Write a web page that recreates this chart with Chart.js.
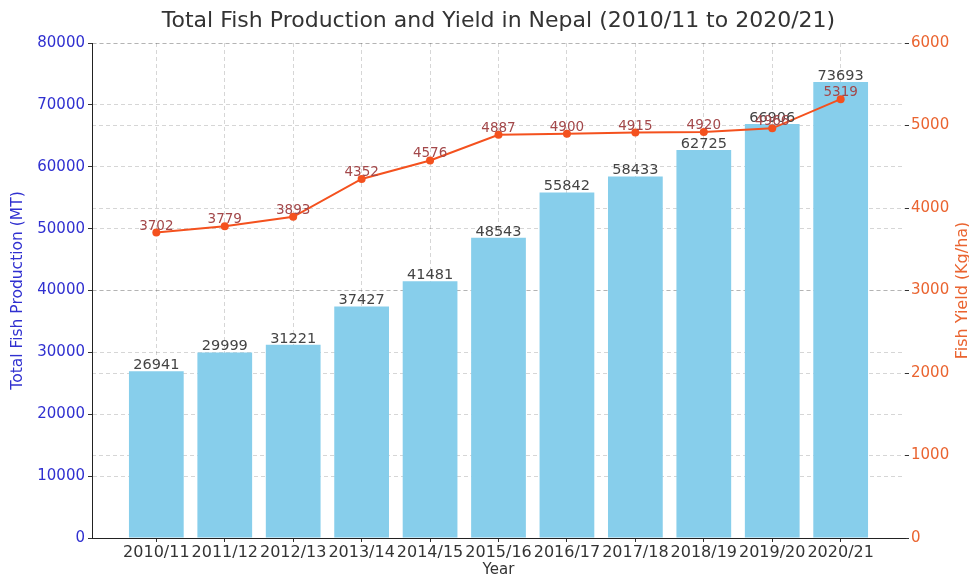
<!DOCTYPE html>
<html>
<head>
<meta charset="utf-8">
<title>Total Fish Production and Yield in Nepal</title>
<script src="https://cdn.jsdelivr.net/npm/chart.js@4.4.1/dist/chart.umd.min.js"></script>
<style>
  html, body { margin: 0; padding: 0; background: #ffffff; }
  #wrap { width: 969px; height: 579px; }
</style>
</head>
<body>
<div id="wrap"><canvas id="chart" width="969" height="579"></canvas></div>
<script>
// Fiscal years
const years = ['2010/11', '2011/12', '2012/13', '2013/14', '2014/15', '2015/16',
               '2016/17', '2017/18', '2018/19', '2019/20', '2020/21'];
// Total fish production (metric tonnes)
const production = [26941, 29999, 31221, 37427, 41481, 48543, 55842, 58433, 62725, 66906, 73693];
// Fish yield (kg per hectare)
const fishYield = [3702, 3779, 3893, 4352, 4576, 4887, 4900, 4915, 4920, 4966, 5319];

const BLUE = '#3030d0';
const ORANGE = '#ea6430';
const LINE = '#f4511e';
const GRID = 'rgba(0,0,0,0.16)';
const FONT = "'DejaVu Sans', sans-serif";

Chart.defaults.font.family = FONT;

// Value labels above bars and line points
const valueLabels = {
  id: 'valueLabels',
  afterDatasetsDraw(chart) {
    const ctx = chart.ctx;
    ctx.save();
    ctx.textAlign = 'center';
    ctx.textBaseline = 'alphabetic';
    ctx.font = '14.5px ' + FONT;
    ctx.fillStyle = '#444444';
    chart.getDatasetMeta(0).data.forEach((el, i) => {
      ctx.fillText(String(production[i]), el.x, el.y - 2);
    });
    ctx.font = '13.5px ' + FONT;
    ctx.fillStyle = '#a3484a';
    chart.getDatasetMeta(1).data.forEach((el, i) => {
      ctx.fillText(String(fishYield[i]), el.x, el.y - 3);
    });
    ctx.restore();
  }
};

// Right-hand axis title, read bottom-to-top
const rightTitle = {
  id: 'rightTitle',
  afterDraw(chart) {
    const ctx = chart.ctx;
    const a = chart.chartArea;
    ctx.save();
    ctx.translate(963, (a.top + a.bottom) / 2);
    ctx.rotate(-Math.PI / 2);
    ctx.textAlign = 'center';
    ctx.textBaseline = 'middle';
    ctx.font = '16px ' + FONT;
    ctx.fillStyle = ORANGE;
    ctx.fillText('Fish Yield (Kg/ha)', 0, 0);
    ctx.restore();
  }
};

new Chart(document.getElementById('chart'), {
  type: 'bar',
  data: {
    datasets: [
      {
        type: 'bar',
        label: 'Total Fish Production (MT)',
        data: production.map((v, i) => ({ x: i, y: v })),
        backgroundColor: '#87ceeb',
        borderWidth: 0,
        barPercentage: 0.8,
        categoryPercentage: 1.0,
        xAxisID: 'x',
        yAxisID: 'y',
        order: 2
      },
      {
        type: 'line',
        label: 'Fish Yield (Kg/ha)',
        data: fishYield.map((v, i) => ({ x: i, y: v })),
        borderColor: LINE,
        backgroundColor: LINE,
        borderWidth: 2,
        pointRadius: 4,
        pointBorderWidth: 0,
        pointBackgroundColor: LINE,
        tension: 0,
        xAxisID: 'x',
        yAxisID: 'y1',
        order: 1
      }
    ]
  },
  options: {
    responsive: false,
    animation: false,
    devicePixelRatio: 1,
    layout: { padding: { left: 0, right: 0, top: 0, bottom: 0 } },
    plugins: {
      legend: { display: false },
      tooltip: { enabled: false },
      title: {
        display: true,
        fullSize: false,
        text: 'Total Fish Production and Yield in Nepal (2010/11 to 2020/21)',
        color: '#333333',
        font: { size: 22, weight: 'normal' },
        padding: { top: 8, bottom: 8.6 }
      }
    },
    scales: {
      x: {
        type: 'linear',
        position: 'bottom',
        min: -0.94,
        max: 10.94,
        offset: false,
        afterBuildTicks: s => { s.ticks = years.map((_, i) => ({ value: i })); },
        afterFit: s => { s.height = 41; },
        ticks: {
          callback: v => years[v],
          color: '#333333',
          font: { size: 16 },
          maxRotation: 0,
          autoSkip: false,
          padding: 1
        },
        grid: { color: GRID, offset: false, tickColor: '#333333', tickLength: 4 },
        border: { color: '#222222', width: 1, dash: [4, 3] },
        title: {
          display: true,
          text: 'Year',
          color: '#333333',
          font: { size: 15 },
          padding: { top: 0, bottom: 0 }
        }
      },
      y: {
        position: 'left',
        min: 0,
        max: 80000,
        afterFit: s => { s.width = 92; },
        ticks: { stepSize: 10000, color: BLUE, font: { size: 15 }, padding: 3, callback: v => String(v) },
        grid: { color: GRID, tickColor: '#333333', tickLength: 4 },
        border: { color: '#222222', width: 1, dash: [4, 3] },
        title: {
          display: true,
          text: 'Total Fish Production (MT)',
          color: BLUE,
          font: { size: 15.5 },
          padding: { top: 9, bottom: 0 }
        }
      },
      y1: {
        position: 'right',
        min: 0,
        max: 6000,
        afterFit: s => { s.width = 64; },
        ticks: { stepSize: 1000, color: ORANGE, font: { size: 15 }, padding: 2, callback: v => String(v) },
        grid: { color: GRID, tickColor: '#333333', tickLength: 4 },
        border: { display: false, dash: [4, 3] }
      }
    }
  },
  plugins: [valueLabels, rightTitle]
});
</script>
</body>
</html>
